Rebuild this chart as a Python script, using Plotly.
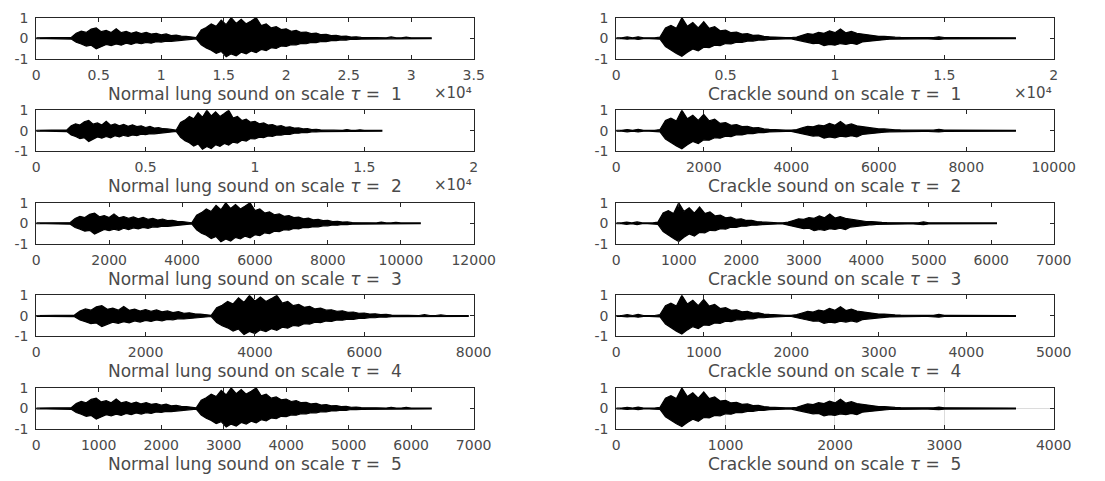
import numpy as np
import plotly.graph_objects as go

# ---------------------------------------------------------------------------
# Envelope of each recording at scale tau = 1 (sample index -> amplitude).
# Upper and lower values give the extent of the waveform at each position.
# ---------------------------------------------------------------------------
normal_step = 400
normal_length = 31750
normal_upper = [
    0.02, 0.02, 0.02, 0.02, 0.02, 0.03, 0.02, 0.04, 0.24, 0.34,
    0.28, 0.44, 0.50, 0.32, 0.38, 0.28, 0.46, 0.27, 0.33, 0.24,
    0.31, 0.22, 0.29, 0.20, 0.24, 0.16, 0.21, 0.13, 0.15, 0.10,
    0.09, 0.05, 0.03, 0.40, 0.52, 0.70, 0.58, 0.88, 0.66, 1.00,
    0.72, 0.92, 0.70, 0.84, 1.00, 0.62, 0.70, 0.50, 0.56, 0.42,
    0.46, 0.34, 0.38, 0.28, 0.30, 0.22, 0.25, 0.17, 0.19, 0.13,
    0.14, 0.09, 0.10, 0.06, 0.07, 0.04, 0.05, 0.03, 0.03, 0.02,
    0.02, 0.06, 0.02, 0.02, 0.05, 0.02, 0.02, 0.02, 0.02, 0.02,
]
normal_lower = [
    0.02, 0.02, 0.02, 0.02, 0.02, 0.02, 0.03, 0.04, 0.20, 0.28,
    0.38, 0.34, 0.52, 0.40, 0.30, 0.36, 0.28, 0.34, 0.24, 0.30,
    0.22, 0.27, 0.20, 0.24, 0.17, 0.19, 0.14, 0.15, 0.11, 0.12,
    0.07, 0.05, 0.03, 0.32, 0.48, 0.58, 0.74, 0.64, 0.90, 0.76,
    0.86, 0.68, 0.76, 0.62, 0.70, 0.55, 0.60, 0.46, 0.50, 0.38,
    0.40, 0.31, 0.33, 0.25, 0.27, 0.20, 0.21, 0.16, 0.17, 0.12,
    0.12, 0.08, 0.09, 0.05, 0.06, 0.04, 0.04, 0.03, 0.02, 0.02,
    0.02, 0.05, 0.02, 0.02, 0.04, 0.02, 0.02, 0.02, 0.02, 0.02,
]

crackle_step = 250
crackle_length = 18250
crackle_upper = [
    0.02, 0.02, 0.06, 0.02, 0.07, 0.02, 0.02, 0.02, 0.06, 0.50,
    0.62, 0.48, 1.00, 0.58, 0.76, 0.50, 0.80, 0.48, 0.56, 0.36,
    0.40, 0.27, 0.30, 0.20, 0.22, 0.14, 0.15, 0.09, 0.07, 0.05,
    0.04, 0.03, 0.03, 0.06, 0.14, 0.22, 0.19, 0.28, 0.24, 0.36,
    0.27, 0.45, 0.26, 0.33, 0.24, 0.20, 0.14, 0.13, 0.09, 0.09,
    0.06, 0.05, 0.04, 0.03, 0.03, 0.03, 0.03, 0.03, 0.03, 0.07,
    0.03, 0.03, 0.03, 0.03, 0.03, 0.03, 0.04, 0.03, 0.02, 0.02,
    0.02, 0.02, 0.02, 0.02,
]
crackle_lower = [
    0.02, 0.02, 0.05, 0.02, 0.06, 0.02, 0.02, 0.02, 0.05, 0.40,
    0.56, 0.74, 0.88, 0.68, 0.52, 0.62, 0.44, 0.46, 0.34, 0.36,
    0.26, 0.28, 0.19, 0.20, 0.14, 0.14, 0.09, 0.09, 0.06, 0.04,
    0.03, 0.03, 0.03, 0.06, 0.12, 0.20, 0.26, 0.24, 0.36, 0.30,
    0.34, 0.26, 0.30, 0.24, 0.30, 0.18, 0.15, 0.11, 0.09, 0.07,
    0.05, 0.04, 0.04, 0.03, 0.03, 0.03, 0.03, 0.03, 0.03, 0.06,
    0.03, 0.03, 0.03, 0.03, 0.03, 0.03, 0.03, 0.03, 0.02, 0.02,
    0.02, 0.02, 0.02, 0.02,
]

scales = [1, 2, 3, 4, 5]

# Axis extents and tick labels for each panel (left: normal, right: crackle)
normal_xmax = [35000, 20000, 12000, 8000, 7000]
normal_ticks = [
    ["0", "0.5", "1", "1.5", "2", "2.5", "3", "3.5"],
    ["0", "0.5", "1", "1.5", "2"],
    ["0", "2000", "4000", "6000", "8000", "10000", "12000"],
    ["0", "2000", "4000", "6000", "8000"],
    ["0", "1000", "2000", "3000", "4000", "5000", "6000", "7000"],
]
crackle_xmax = [20000, 10000, 7000, 5000, 4000]
crackle_ticks = [
    ["0", "0.5", "1", "1.5", "2"],
    ["0", "2000", "4000", "6000", "8000", "10000"],
    ["0", "1000", "2000", "3000", "4000", "5000", "6000", "7000"],
    ["0", "1000", "2000", "3000", "4000", "5000"],
    ["0", "1000", "2000", "3000", "4000"],
]
normal_exponent = [4, 4, None, None, None]
crackle_exponent = [4, None, None, None, None]
crackle_grid = [False, False, False, False, True]
exponent_label = {4: "×10⁴"}

y_ticks = [-1, 0, 1]
y_ticktext = ["-1", "0", "1"]

# ---------------------------------------------------------------------------
W, H = 1105, 481
FONT = "DejaVu Sans"
TEXT = "#4a4a4a"
AXIS = "#262626"

col_x = [(33, 481), (627, 1075)]
row_top0, row_pitch, row_height = 10, 95.75, 42.5


def envelope_polygon(step, length, upper, lower, tau):
    pos = np.arange(len(upper)) * step
    pos = np.minimum(pos, length)
    x = np.concatenate([pos, pos[::-1]]) / tau
    y = np.concatenate([np.array(upper), -np.array(lower)[::-1]])
    return x, y


fig = go.Figure()
annotations = []
layout_axes = {}

panels = []
for i, tau in enumerate(scales):
    panels.append(("Normal lung sound", 0, i, tau, normal_step, normal_length,
                   normal_upper, normal_lower, normal_xmax[i], normal_ticks[i],
                   normal_exponent[i], False))
    panels.append(("Crackle sound", 1, i, tau, crackle_step, crackle_length,
                   crackle_upper, crackle_lower, crackle_xmax[i], crackle_ticks[i],
                   crackle_exponent[i], crackle_grid[i]))

for k, (name, col, row, tau, step, length, up, lo, xmax, ticks, expo, grid) in enumerate(panels):
    n = k + 1
    xa = "x" if n == 1 else f"x{n}"
    ya = "y" if n == 1 else f"y{n}"
    x0, x1 = col_x[col]
    top = row_top0 + row_pitch * row
    bottom = top + row_height

    xs, ys = envelope_polygon(step, length, up, lo, tau)
    fig.add_trace(go.Scatter(
        x=xs, y=ys, mode="lines", fill="toself",
        fillcolor="black", line=dict(color="black", width=1.2),
        xaxis=xa, yaxis=ya, showlegend=False, hoverinfo="skip",
    ))

    mult = 10 ** expo if expo else 1
    tickvals = [float(t) * mult for t in ticks]

    common = dict(
        showline=True, linecolor=AXIS, linewidth=1, mirror="ticks",
        ticks="inside", ticklen=4, tickcolor=AXIS, zeroline=False,
        tickfont=dict(family=FONT, size=14, color=TEXT),
    )
    layout_axes["xaxis" if n == 1 else f"xaxis{n}"] = dict(
        domain=[x0 / W, x1 / W], anchor=ya, range=[0, xmax],
        tickvals=tickvals, ticktext=ticks, ticklabelstandoff=3,
        showgrid=grid, gridcolor="#dcdcdc", **common,
    )
    layout_axes["yaxis" if n == 1 else f"yaxis{n}"] = dict(
        domain=[1 - bottom / H, 1 - top / H], anchor=xa, range=[-1, 1],
        tickvals=y_ticks, ticktext=y_ticktext, ticklabelstandoff=4,
        showgrid=grid, gridcolor="#dcdcdc", **common,
    )

    annotations.append(dict(
        x=(x0 + x1) / 2 / W, y=1 - (bottom + 36) / H, xref="paper", yref="paper",
        text=f"{name} on scale <i>τ</i> =  {tau}", showarrow=False,
        xanchor="center", yanchor="middle",
        font=dict(family=FONT, size=17, color=TEXT),
    ))
    if expo:
        annotations.append(dict(
            x=x1 / W, y=1 - (bottom + 35) / H, xref="paper", yref="paper",
            text=exponent_label[expo], showarrow=False,
            xanchor="right", yanchor="middle",
            font=dict(family=FONT, size=15, color=TEXT),
        ))

fig.update_layout(
    width=W, height=H,
    margin=dict(l=0, r=0, t=0, b=0),
    paper_bgcolor="white", plot_bgcolor="white",
    annotations=annotations,
    **layout_axes,
)

fig.write_html("out.html")
